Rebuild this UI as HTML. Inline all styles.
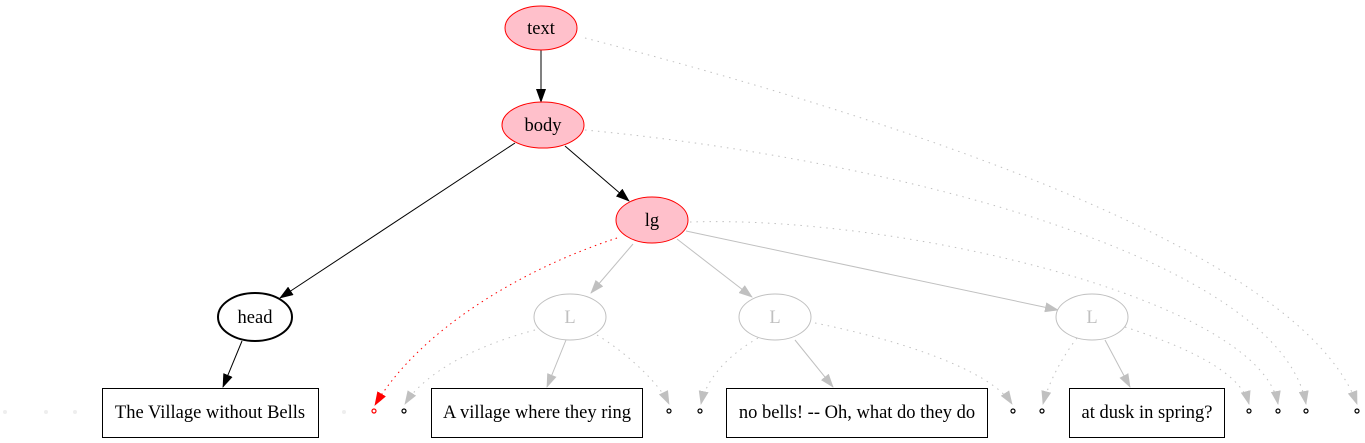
<!DOCTYPE html>
<html><head><meta charset="utf-8"><style>html,body{margin:0;padding:0;background:#fff}svg{display:block}.t{font-family:"Liberation Serif","DejaVu Serif",serif;font-size:18.5px}</style></head>
<body>
<svg width="1365" height="443" viewBox="0 0 1365 443" xmlns="http://www.w3.org/2000/svg">
<defs>
<marker id="ab" markerWidth="14" markerHeight="10" refX="13" refY="5" orient="auto" markerUnits="userSpaceOnUse"><path d="M0,0 L14,5 L0,10z" fill="#000"/></marker>
<marker id="ag" markerWidth="14" markerHeight="10" refX="13" refY="5" orient="auto" markerUnits="userSpaceOnUse"><path d="M0,0 L14,5 L0,10z" fill="#c0c0c0"/></marker>
<marker id="ar" markerWidth="14" markerHeight="10" refX="13" refY="5" orient="auto" markerUnits="userSpaceOnUse"><path d="M0,0 L14,5 L0,10z" fill="#f00"/></marker>
</defs>
<g fill="none" stroke-width="1">
<g stroke="#c0c0c0" stroke-dasharray="1.5,5" marker-end="url(#ag)">
<path d="M585,38 C900,120 1300,250 1357,404"/>
<path d="M585,130 C900,160 1280,260 1306,404"/>
<path d="M690,222 C900,215 1260,300 1278,404"/>
<path d="M1125,327 C1180,345 1240,370 1249,404"/>
<path d="M535,330 C460,350 420,380 405,404"/>
<path d="M597,335 C630,355 660,385 669,404"/>
<path d="M758,338 C720,360 705,385 701,404"/>
<path d="M815,323 C900,340 990,370 1012,404"/>
<path d="M1077,338 C1060,360 1048,385 1043,404"/>
</g>
<path d="M617,238 C520,270 420,330 375,405" stroke="#f00" stroke-dasharray="1.5,4" marker-end="url(#ar)"/>
<g stroke="#000" marker-end="url(#ab)">
<line x1="541" y1="50" x2="541" y2="102"/>
<line x1="565" y1="146" x2="629" y2="201"/>
<line x1="515" y1="143" x2="280" y2="298"/>
<line x1="242" y1="341" x2="223" y2="387"/>
</g>
<g stroke="#c0c0c0" marker-end="url(#ag)">
<line x1="633" y1="244" x2="591" y2="293"/>
<line x1="677" y1="239" x2="752" y2="297"/>
<line x1="686" y1="231" x2="1058" y2="310"/>
<line x1="566" y1="340" x2="547" y2="387"/>
<line x1="795" y1="340" x2="833" y2="387"/>
<line x1="1105" y1="340" x2="1130" y2="387"/>
</g>
</g>
<g class="t" text-anchor="middle">
<ellipse cx="541" cy="28" rx="36" ry="22" fill="pink" stroke="#f00"/>
<text x="541" y="34">text</text>
<ellipse cx="543" cy="125" rx="41" ry="23" fill="pink" stroke="#f00"/>
<text x="543" y="131">body</text>
<ellipse cx="652" cy="220" rx="36" ry="23" fill="pink" stroke="#f00"/>
<text x="652" y="226">lg</text>
<ellipse cx="255" cy="317" rx="37" ry="24" fill="#fff" stroke="#000" stroke-width="2"/>
<text x="255" y="323">head</text>
<g fill="#fff" stroke="#c0c0c0">
<ellipse cx="570" cy="317" rx="36" ry="23"/>
<ellipse cx="775" cy="317" rx="36" ry="23"/>
<ellipse cx="1092" cy="317" rx="36" ry="23"/>
</g>
<g fill="#c0c0c0"><text x="570" y="323">L</text><text x="775" y="323">L</text><text x="1092" y="323">L</text></g>
<g fill="#fff" stroke="#000">
<rect x="102.5" y="388.5" width="216" height="49"/>
<rect x="431.5" y="388.5" width="211" height="49"/>
<rect x="726.5" y="388.5" width="261" height="49"/>
<rect x="1069.5" y="388.5" width="155" height="49"/>
</g>
<text x="210" y="418">The Village without Bells</text>
<text x="537" y="418">A village where they ring</text>
<text x="857" y="418">no bells! -- Oh, what do they do</text>
<text x="1147" y="418">at dusk in spring?</text>
</g>
<g fill="#fff" stroke="#000" stroke-width="1.2">
<circle cx="404" cy="411" r="2"/><circle cx="669" cy="411" r="2"/><circle cx="700" cy="411" r="2"/>
<circle cx="1013" cy="411" r="2"/><circle cx="1042" cy="411" r="2"/><circle cx="1249" cy="411" r="2"/>
<circle cx="1278" cy="411" r="2"/><circle cx="1306" cy="411" r="2"/><circle cx="1357" cy="411" r="2"/>
</g>
<circle cx="374" cy="411" r="2" fill="#fff" stroke="#f00" stroke-width="1.2"/>
<g fill="#eee"><circle cx="5" cy="412" r="2"/><circle cx="46" cy="412" r="2"/><circle cx="75" cy="412" r="2"/><circle cx="344" cy="412" r="2"/></g>
</svg>
</body></html>
